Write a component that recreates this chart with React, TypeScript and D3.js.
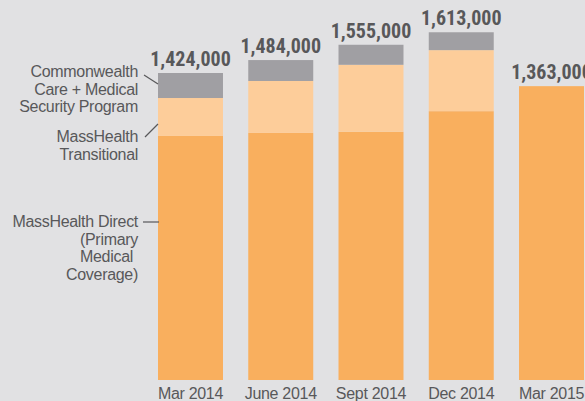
import * as d3 from 'd3';
import React from 'react';

// Enrollment, in thousands, by quarter
const periods = ['Mar 2014', 'June 2014', 'Sept 2014', 'Dec 2014', 'Mar 2015'];
const direct = [1132, 1146, 1151, 1247, 1363];
const transitional = [176, 241, 311, 283, 0];
const commonwealth = [116, 97, 93, 83, 0];
const totalLabels = ['1,424,000', '1,484,000', '1,555,000', '1,613,000', '1,363,000'];

const seriesKeys = ['direct', 'transitional', 'commonwealth'];
const colors = { direct: '#f9af5e', transitional: '#fdcd9a', commonwealth: '#a09fa3' };

const W = 585;
const H = 401;
const textColor = '#58585a';

export default function App() {
  const rows = periods.map((p, i) => ({
    period: p,
    direct: direct[i],
    transitional: transitional[i],
    commonwealth: commonwealth[i],
  }));
  const stacked = d3.stack().keys(seriesKeys)(rows as any);

  // Setting up the scales
  const xScale = d3.scaleBand().domain(periods).range([158, 584]).paddingInner(0.28).paddingOuter(0);
  const yScale = d3.scaleLinear().domain([0, 1424]).range([380, 73]);

  const bars = stacked.map((layer) =>
    layer.map((d, i) => (
      <rect
        key={layer.key + i}
        x={xScale(periods[i])}
        width={xScale.bandwidth()}
        y={yScale(d[1])}
        height={yScale(d[0]) - yScale(d[1])}
        fill={colors[layer.key]}
      />
    ))
  );

  const totals = periods.map((p, i) => direct[i] + transitional[i] + commonwealth[i]);

  const legendFont = {
    fontFamily: 'Liberation Sans, Arial, sans-serif',
    fontSize: 16,
    letterSpacing: -0.3,
    fill: textColor,
  };

  return (
    <svg width={W} height={H} style={{ position: 'absolute', left: 0, top: 0, background: '#e1e1e3' }}>
      {bars}
      {/* value labels */}
      {totals.map((t, i) => (
        <text
          key={'t' + i}
          x={xScale(periods[i]) + xScale.bandwidth() / 2}
          y={yScale(t) - 7}
          textAnchor="middle"
          style={{
            fontFamily: 'Liberation Sans Narrow, Roboto Condensed, Arial Narrow, sans-serif',
            fontWeight: 'bold',
            fontSize: 20,
            fill: textColor,
          }}
        >
          {totalLabels[i]}
        </text>
      ))}
      {/* x labels */}
      {periods.map((p) => (
        <text
          key={p}
          x={xScale(p) + xScale.bandwidth() / 2}
          y={399}
          textAnchor="middle"
          style={legendFont}
        >
          {p}
        </text>
      ))}
      {/* series labels */}
      <g style={legendFont} textAnchor="end">
        <text x={138} y={77}>
          <tspan x={138}>Commonwealth</tspan>
          <tspan x={138} dy={17.5}>Care + Medical</tspan>
          <tspan x={138} dy={17.5}>Security Program</tspan>
        </text>
        <text x={138} y={142}>
          <tspan x={138}>MassHealth</tspan>
          <tspan x={138} dy={17.5}>Transitional</tspan>
        </text>
        <text x={138} y={227}>
          <tspan x={138}>MassHealth Direct</tspan>
          <tspan x={138} dy={17.5}>(Primary</tspan>
          <tspan x={133} dy={17.5}>Medical</tspan>
          <tspan x={138} dy={17.5}>Coverage)</tspan>
        </text>
      </g>
      <g stroke={textColor} strokeWidth={1.2}>
        <line x1={144} y1={75} x2={158} y2={84} />
        <line x1={145} y1={137} x2={158} y2={124} />
        <line x1={143} y1={222} x2={159} y2={222} />
      </g>
    </svg>
  );
}
